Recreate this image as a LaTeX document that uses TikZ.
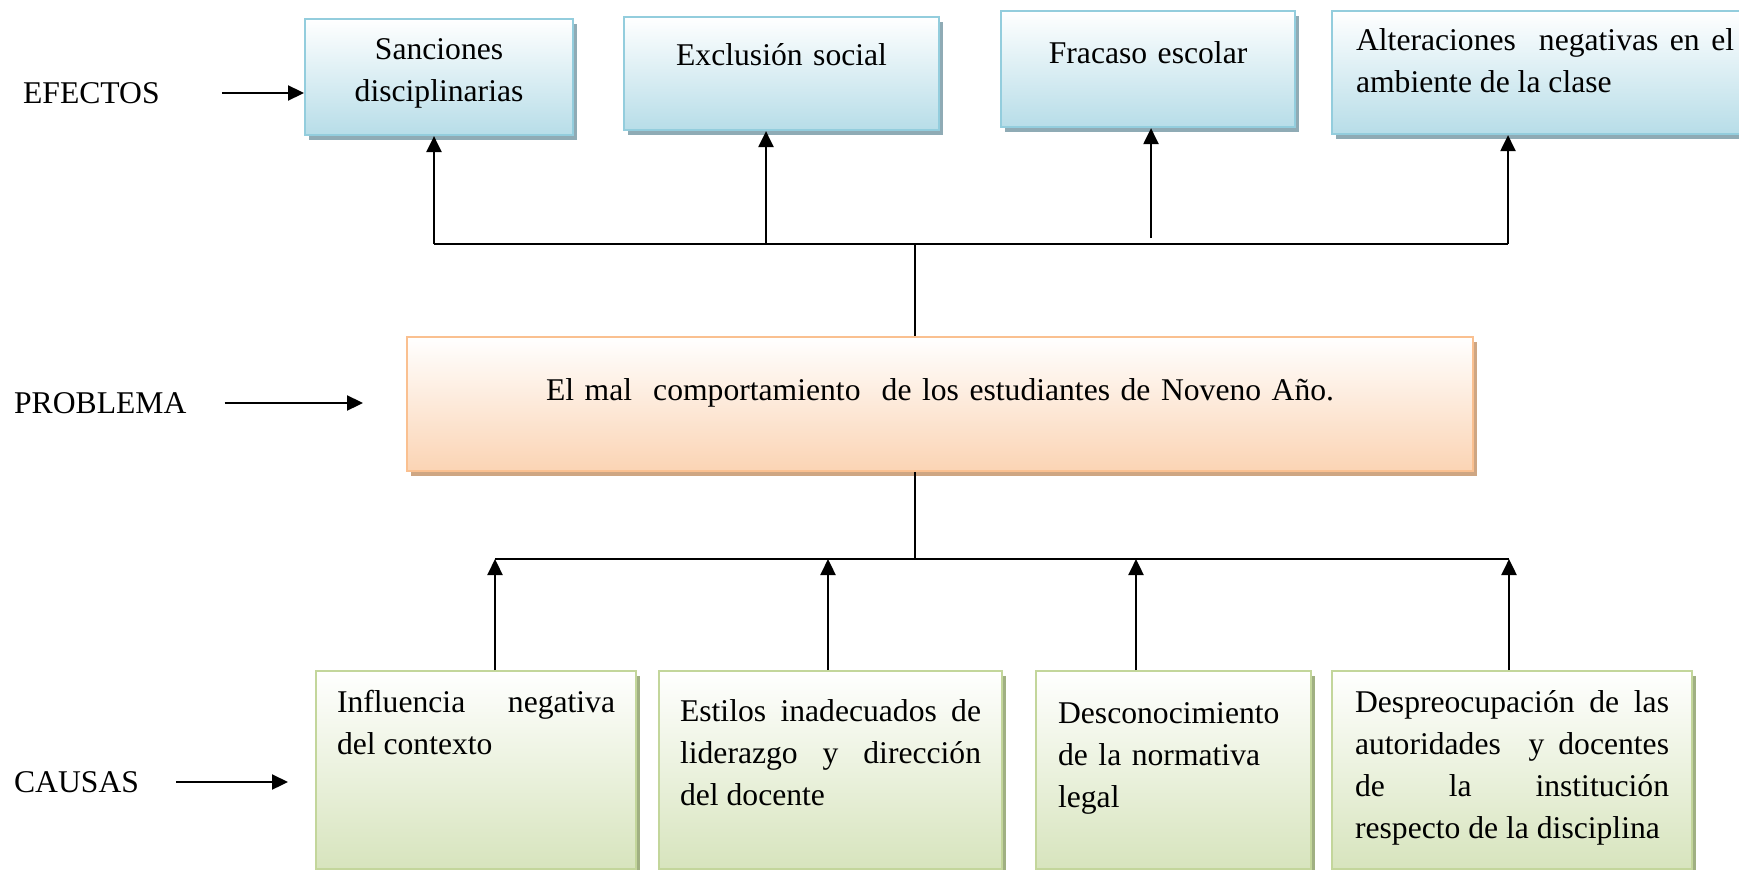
\documentclass[tikz,border=0pt]{standalone}
\usepackage{fontspec}
\setmainfont{Liberation Serif}
\usepackage{xcolor}
\usetikzlibrary{arrows.meta,shadows}
\hyphenpenalty=10000

\definecolor{effectline}{RGB}{147,205,221}
\definecolor{effectfill}{RGB}{183,221,232}
\definecolor{effectshade}{RGB}{143,171,181}
\definecolor{problemline}{RGB}{250,192,144}
\definecolor{problemfill}{RGB}{251,212,180}
\definecolor{problemshade}{RGB}{206,166,131}
\definecolor{causeline}{RGB}{195,214,155}
\definecolor{causefill}{RGB}{215,228,189}
\definecolor{causeshade}{RGB}{160,176,130}

\begin{document}
\begin{tikzpicture}[
        every node/.style={font=\fontsize{9}{11.95}\selectfont},
        every path/.style={line width=0.65pt, >={Triangle[length=0.16cm, width=0.15cm]}},
        box/.style={anchor=north west, inner ysep=0pt, line width=0.6pt},
        effect/.style={box, draw=effectline, top color=white, bottom color=effectfill,
            drop shadow={shadow xshift=0.04cm, shadow yshift=-0.05cm, fill=effectshade, opacity=1}},
        problem/.style={box, draw=problemline, top color=white, bottom color=problemfill,
            drop shadow={shadow xshift=0.04cm, shadow yshift=-0.05cm, fill=problemshade, opacity=1}},
        cause/.style={box, draw=causeline, top color=white, bottom color=causefill, align=justify,
            drop shadow={shadow xshift=0.04cm, shadow yshift=-0.05cm, fill=causeshade, opacity=1}},
        tag/.style={anchor=west, inner sep=0pt}
    ]
    \useasboundingbox (0,0) rectangle (17.39,-8.69);

    % labels on the left
    \node[tag] (efectos) at (0.22,-0.93) {EFECTOS};
    \node[tag] (problema) at (0.13,-4.03) {PROBLEMA};
    \node[tag] (causas) at (0.13,-7.82) {CAUSAS};

    % effects
    \node[effect, text width=2.48cm, inner xsep=0.1cm, text height=0.40cm, text depth=0.76cm, align=center] (e1) at (3.04,-0.18) {Sanciones\\ disciplinarias};
    \node[effect, text width=2.95cm, inner xsep=0.1cm, text height=0.48cm, text depth=0.65cm, align=center] (e2) at (6.23,-0.16) {Exclusión social};
    \node[effect, text width=2.74cm, inner xsep=0.1cm, text height=0.52cm, text depth=0.64cm, align=center] (e3) at (10.00,-0.10) {Fracaso escolar};
    \node[effect, text width=3.78cm, inner xsep=0.24cm, text height=0.39cm, text depth=0.84cm, align=justify] (e4) at (13.31,-0.10) {Alteraciones~ negativas en el\linebreak ambiente de la clase};

    % problem
    \node[problem, text width=10.46cm, inner xsep=0.1cm, text height=0.63cm, text depth=0.71cm, align=center] (prob) at (4.06,-3.36) {El mal~ comportamiento~ de los estudiantes de Noveno Año.};

    % causes
    \node[cause, text width=2.78cm, inner xsep=0.21cm, text height=0.41cm, text depth=1.57cm] (c1) at (3.15,-6.70) {Influencia negativa\linebreak del contexto};
    \node[cause, text width=3.01cm, inner xsep=0.21cm, text height=0.50cm, text depth=1.48cm] (c2) at (6.58,-6.70) {Estilos inadecuados de\linebreak liderazgo y dirección\linebreak del docente};
    \node[cause, text width=2.31cm, inner xsep=0.22cm, text height=0.52cm, text depth=1.46cm, align=left] (c3) at (10.35,-6.70) {Desconocimiento\\ de la normativa\\ legal};
    \node[cause, text width=3.14cm, inner xsep=0.23cm, text height=0.41cm, text depth=1.57cm] (c4) at (13.31,-6.70) {Despreocupación de las\linebreak autoridades~ y docentes\linebreak de la institución\linebreak respecto de la disciplina};

    % arrows from the labels
    \draw[->] ([xshift=0.61cm]efectos.east) -- (efectos.east -| e1.west);
    \draw[->] ([xshift=0.37cm]problema.east) -- ([xshift=-0.43cm]problema.east -| prob.west);
    \draw[->] ([xshift=0.36cm]causas.east) -- ([xshift=-0.27cm]causas.east -| c1.west);

    % upper tree
    \coordinate (upmid) at (9.15,-2.44);
    \coordinate (up1) at (4.34,-2.44);
    \coordinate (up2) at (7.66,-2.44);
    \coordinate (up3) at (11.51,-2.38);
    \coordinate (up4) at (15.08,-2.44);
    \draw (up1) -- (up4);
    \draw (upmid |- prob.north) -- (upmid);
    \foreach \i in {1,...,4}
        \draw[->] (up\i) -- (up\i |- e\i.south);

    % lower tree
    \coordinate (dnmid) at (9.15,-5.59);
    \coordinate (dn1) at (4.95,-5.59);
    \coordinate (dn2) at (8.28,-5.59);
    \coordinate (dn3) at (11.36,-5.59);
    \coordinate (dn4) at (15.09,-5.59);
    \draw (dn1) -- (dn4);
    \draw (dnmid |- prob.south) -- (dnmid);
    \foreach \i in {1,...,4}
        \draw[->] (dn\i |- c\i.north) -- (dn\i);
\end{tikzpicture}
\end{document}
